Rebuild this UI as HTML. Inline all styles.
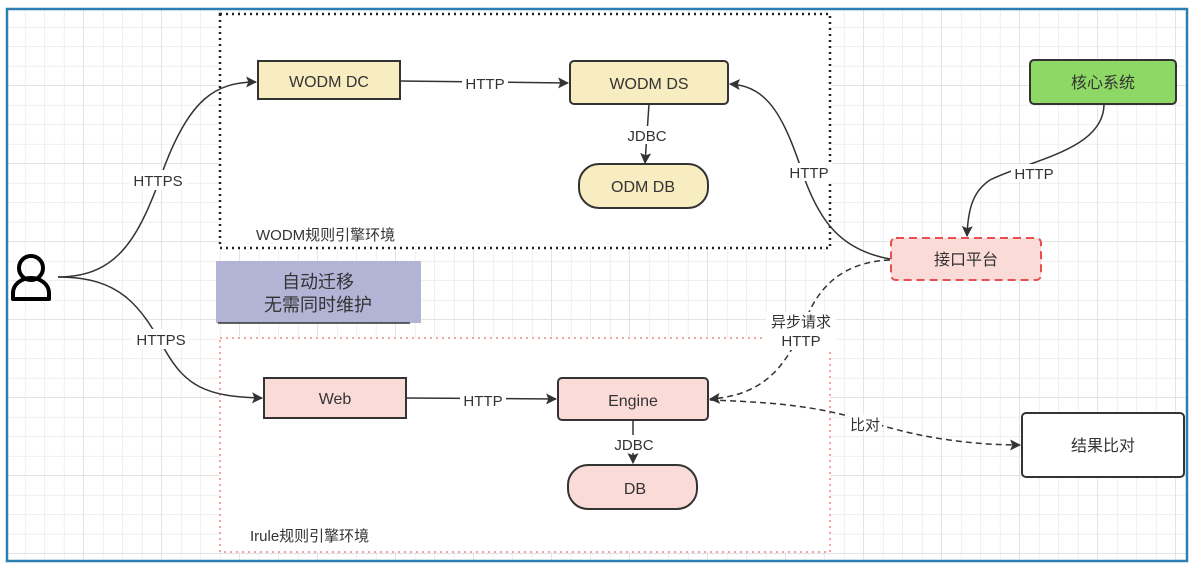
<!DOCTYPE html>
<html><head><meta charset="utf-8"><style>
html,body{margin:0;padding:0;background:#fff}
svg{display:block}
text{font-family:"Liberation Sans","Noto Sans CJK SC",sans-serif;fill:#333}
</style></head><body>
<svg width="1193" height="568" viewBox="0 0 1193 568" xmlns="http://www.w3.org/2000/svg">
<defs>
<pattern id="g" width="19.5" height="19.5" patternUnits="userSpaceOnUse" x="6" y="8">
<path d="M19.5 0V19.5H0" fill="none" stroke="#e6e6e6" stroke-width="1.2"/>
</pattern>
<pattern id="G" width="78" height="78" patternUnits="userSpaceOnUse" x="6" y="8">
<path d="M78 0V78H0" fill="none" stroke="#dcdcdc" stroke-width="1.5"/>
</pattern>
<marker id="a" viewBox="0 0 10 10" refX="9" refY="5" markerWidth="11" markerHeight="11" orient="auto" markerUnits="userSpaceOnUse">
<path d="M0 0L10 5L0 10L2 5z" fill="#333"/></marker>
</defs>
<rect x="0" y="0" width="1193" height="568" fill="#fff"/>
<rect x="7" y="9" width="1180" height="552" fill="url(#g)"/>
<rect x="7" y="9" width="1180" height="552" fill="url(#G)"/>
<rect x="7" y="9" width="1180" height="552" fill="none" stroke="#2e7fb0" stroke-width="2.5"/>

<rect x="220" y="14" width="610" height="234" fill="#fff" stroke="#222" stroke-width="2.5" stroke-dasharray="2 4"/>
<text x="256" y="240" font-size="15">WODM规则引擎环境</text>
<rect x="220" y="338" width="610" height="214" fill="#fff" stroke="#f4a4a4" stroke-width="2" stroke-dasharray="2 4"/>
<text x="250" y="541" font-size="15">Irule规则引擎环境</text>

<rect x="216" y="261" width="205" height="62" fill="#b3b3d6"/>
<line x1="218" y1="323" x2="410" y2="323" stroke="#333" stroke-width="1.5"/>
<text x="318" y="288" font-size="18" text-anchor="middle" fill="#111">自动迁移</text>
<text x="318" y="311" font-size="18" text-anchor="middle" fill="#111">无需同时维护</text>

<circle cx="31" cy="268" r="12" fill="none" stroke="#000" stroke-width="4"/>
<path d="M13 299V293a18 15 0 0 1 36 0V299z" fill="none" stroke="#000" stroke-width="4" stroke-linejoin="round"/>

<g fill="none" stroke="#333" stroke-width="1.5">
<path d="M58 277C120 277 140 235 165 165C190 100 215 82 256 82" marker-end="url(#a)"/>
<path d="M58 277C120 277 140 305 165 350C185 385 205 397 262 398" marker-end="url(#a)"/>
<path d="M400 81L568 83" marker-end="url(#a)"/>
<path d="M649 104L645 163" marker-end="url(#a)"/>
<path d="M890 259C840 250 820 220 805 180C785 120 770 86 730 84" marker-end="url(#a)"/>
<path d="M1104 104C1104 150 1030 160 990 180C975 190 968 205 967 236" marker-end="url(#a)"/>
<path d="M406 398L556 399" marker-end="url(#a)"/>
<path d="M633 420L633 463" marker-end="url(#a)"/>
<path d="M890 260C840 262 820 290 810 310C790 360 770 395 710 399" stroke-dasharray="6 4" marker-end="url(#a)"/>
<path d="M710 400C800 403 830 410 880 425C930 440 980 445 1020 445" stroke-dasharray="6 4" marker-end="url(#a)"/>
</g>
<g font-size="15" text-anchor="middle">
<rect x="130" y="170" width="56" height="20" fill="#fff"/><text x="158" y="186">HTTPS</text>
<rect x="132" y="329" width="56" height="20" fill="#fff"/><text x="161" y="345">HTTPS</text>
<rect x="462" y="74" width="46" height="18" fill="#fff"/><text x="485" y="89">HTTP</text>
<rect x="625" y="126" width="44" height="18" fill="#fff"/><text x="647" y="141">JDBC</text>
<rect x="786" y="163" width="46" height="18" fill="#fff"/><text x="809" y="178">HTTP</text>
<rect x="1011" y="164" width="46" height="18" fill="#fff"/><text x="1034" y="179">HTTP</text>
<rect x="460" y="391" width="46" height="18" fill="#fff"/><text x="483" y="406">HTTP</text>
<rect x="612" y="435" width="44" height="18" fill="#fff"/><text x="634" y="450">JDBC</text>
<rect x="766" y="312" width="70" height="38" fill="#fff"/><text x="801" y="327">异步请求</text><text x="801" y="346">HTTP</text>
<rect x="848" y="415" width="34" height="18" fill="#fff"/><text x="865" y="430">比对</text>
</g>

<g stroke="#333" stroke-width="2">
<rect x="258" y="61" width="142" height="38" fill="#f7edc0"/>
<rect x="570" y="61" width="158" height="43" rx="4" fill="#f7edc0"/>
<rect x="579" y="164" width="129" height="44" rx="20" fill="#f7edc0"/>
<rect x="1030" y="60" width="146" height="44" rx="4" fill="#8ed866"/>
<rect x="891" y="238" width="150" height="42" rx="5" fill="#fadbd8" stroke="#e84f4f" stroke-dasharray="8 5"/>
<rect x="264" y="378" width="142" height="40" fill="#fadbd8"/>
<rect x="558" y="378" width="150" height="42" rx="4" fill="#fadbd8"/>
<rect x="568" y="465" width="129" height="44" rx="20" fill="#fadbd8"/>
<rect x="1022" y="413" width="162" height="64" rx="4" fill="#fff"/>
</g>
<g font-size="16" text-anchor="middle">
<text x="329" y="87">WODM DC</text>
<text x="649" y="89">WODM DS</text>
<text x="643" y="192">ODM DB</text>
<text x="1103" y="88">核心系统</text>
<text x="966" y="265">接口平台</text>
<text x="335" y="404">Web</text>
<text x="633" y="406">Engine</text>
<text x="635" y="494">DB</text>
<text x="1103" y="451">结果比对</text>
</g>
</svg>
</body></html>
